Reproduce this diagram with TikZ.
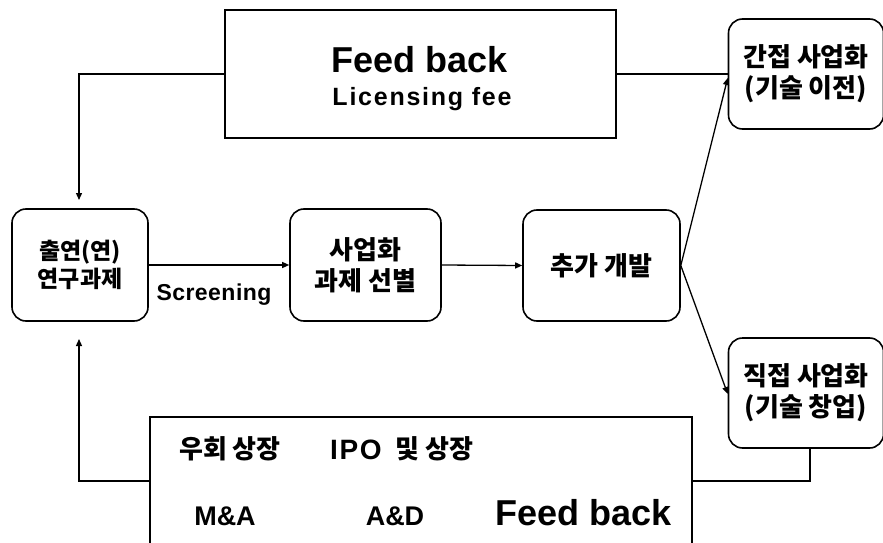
\documentclass[tikz,border=0pt]{standalone}
\usepackage{fontspec}
\setmainfont{Liberation Sans}
\newfontfamily\kr{Noto Sans CJK KR}
\newfontfamily\latwide{Liberation Sans}[LetterSpace=7]
\newfontfamily\latmid{Liberation Sans}[LetterSpace=2]
\newfontfamily\latipo{Liberation Sans}[LetterSpace=6]
\usetikzlibrary{arrows.meta}

\begin{document}
\begin{tikzpicture}[x=1pt,y=-1pt,
  rbox/.style={draw,line width=1.6pt,rounded corners=14pt,inner sep=0pt,
    font=\kr\bfseries\fontsize{26}{31}\selectfont,align=center},
  sbox/.style={draw,line width=1.8pt,inner sep=0pt},
  conn/.style={line width=1.3pt},
  arr/.style={conn,-{Triangle[length=7pt,width=6pt]}},
  big/.style={font=\bfseries\fontsize{36}{40}\selectfont,anchor=base,inner sep=0pt},
  lat/.style={font=\bfseries\fontsize{27}{30}\selectfont,anchor=base,inner sep=0pt},
  krt/.style={font=\kr\bfseries\fontsize{26}{30}\selectfont,inner sep=0pt}
]
\useasboundingbox (0,0) rectangle (883,543);

% feedback boxes
\node[sbox,minimum width=391pt,minimum height=128pt] (fbtop) at (420.5,74) {};
\node[big] (fbtopa) at (420,73) {Feed back};
\node[lat,font=\latwide\bfseries\fontsize{25}{28}\selectfont] (fbtopb) at (422,105) {Licensing fee};

\node[sbox,minimum width=542pt,minimum height=150pt] (fbbot) at (421,492) {};
\node[krt] (uh) at (230,449) {우회 상장};
\node[lat,anchor=base west,font=\latipo\bfseries\fontsize{28}{30}\selectfont] (ipo) at (330,459) {IPO};
\node[krt,anchor=west] (ipob) at (395,449) {및 상장};
\node[lat] (ma) at (225,525) {M\&A};
\node[lat] (ad) at (395,525) {A\&D};
\node[big] (fbbotb) at (584,525) {Feed back};

% process boxes
\node[rbox,minimum width=136pt,minimum height=112pt,
  font=\kr\bfseries\fontsize{23}{28}\selectfont] (gw) at (80,265) {출연(연)\\연구과제};
\node[rbox,minimum width=151pt,minimum height=112pt] (sel) at (365.5,265) {사업화\\과제 선별};
\node[rbox,minimum width=157pt,minimum height=111pt] (dev) at (601.5,265.5) {추가 개발};
\node[rbox,minimum width=155pt,minimum height=110pt] (ind) at (806,74) {간접 사업화\\(기술 이전)};
\node[rbox,minimum width=155pt,minimum height=110pt] (dir) at (806,393) {직접 사업화\\(기술 창업)};

\node[lat,font=\latmid\bfseries\fontsize{23}{26}\selectfont] (scr) at (214,300) {Screening};

% connectors
\draw[arr] (gw.east) -- (sel.west);
\draw[arr] (sel.east) -- (dev.west);
\draw[arr] (dev.east) -- ([yshift=-4pt]ind.west);
\draw[arr] (dev.east) -- ([yshift=-1pt]dir.west);
\draw[conn] (fbtop.east) -- (ind.west);

\coordinate (ltop) at (79,74);
\coordinate (ltip) at (79,200);
\draw[arr] (fbtop.west) -- (ltop) -- (ltip);

\coordinate (jr) at (810,481);
\coordinate (lbot) at (79,481);
\coordinate (btip) at (79,339);
\draw[conn] (dir.south -| jr) -- (jr) -- (jr -| fbbot.east);
\draw[arr] (lbot -| fbbot.west) -- (lbot) -- (btip);
\end{tikzpicture}
\end{document}
